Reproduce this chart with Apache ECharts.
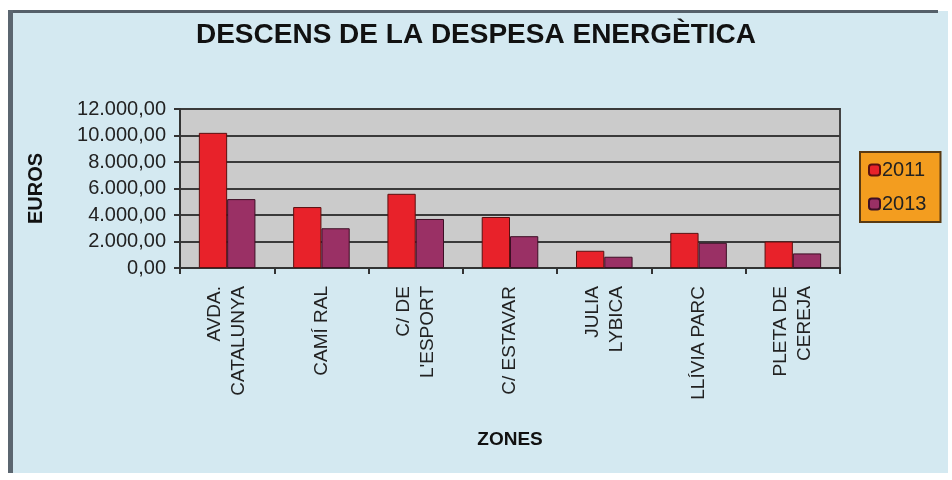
<!DOCTYPE html>
<html>
<head>
<meta charset="utf-8">
<script src="https://cdn.jsdelivr.net/npm/echarts@6/dist/echarts.min.js"></script>
<style>
  html, body { margin: 0; padding: 0; background: #fff; }
  #app { width: 952px; height: 480px; }
</style>
</head>
<body>
<div id="app"></div>
<script>
var zones = ['AVDA.\nCATALUNYA', 'CAMÍ RAL', "C/ DE\nL'ESPORT", 'C/ ESTAVAR', 'JULIA\nLYBICA', 'LLÍVIA PARC', 'PLETA DE\nCEREJA'];
var values2011 = [10200, 4600, 5600, 3850, 1300, 2650, 2000];
var values2013 = [5200, 3000, 3700, 2400, 850, 1900, 1100];
var yTicks = [0, 2000, 4000, 6000, 8000, 10000, 12000];

function euro(v) {
    var s = Math.round(v).toString().replace(/\B(?=(\d{3})+(?!\d))/g, '.');
    return s + ',00';
}

var chart = echarts.init(document.getElementById('app'));

chart.setOption({
    backgroundColor: '#ffffff',
    textStyle: { fontFamily: 'Liberation Sans, Arial, sans-serif' },
    graphic: [
        // chart frame
        { type: 'rect', z: -10, shape: { x: 8, y: 11, width: 940, height: 462 },
          style: { fill: '#d4e9f1' } },
        { type: 'rect', z: -9, shape: { x: 8, y: 10, width: 930, height: 3 },
          style: { fill: '#55606a' } },
        { type: 'rect', z: -9, shape: { x: 8, y: 10, width: 5, height: 463 },
          style: { fill: '#5b6670' } }
    ],
    title: {
        text: 'DESCENS DE LA DESPESA ENERGÈTICA',
        left: 'center',
        top: 16,
        textStyle: { fontSize: 28, fontWeight: 'bold', color: '#111' }
    },
    legend: {
        orient: 'vertical',
        left: 860,
        top: 152,
        padding: [8, 14, 8, 8],
        itemGap: 14,
        itemWidth: 11,
        itemHeight: 11,
        backgroundColor: '#f39d1f',
        borderColor: '#5a3a12',
        borderWidth: 2,
        textStyle: { fontSize: 20, color: '#222', padding: [0, 0, 0, -3] },
        data: ['2011', '2013']
    },
    grid: {
        left: 180,
        right: 112,
        top: 109,
        bottom: 212,
        show: true,
        backgroundColor: '#cbcbcb',
        borderColor: '#444',
        borderWidth: 2
    },
    xAxis: {
        type: 'category',
        data: zones,
        name: 'ZONES',
        nameLocation: 'middle',
        nameGap: 162,
        nameTextStyle: { fontSize: 19, fontWeight: 'bold', color: '#111' },
        axisLine: { lineStyle: { color: '#333', width: 2 } },
        axisTick: { show: true, length: 6, lineStyle: { color: '#333', width: 2 } },
        axisLabel: {
            rotate: 90,
            margin: 18,
            fontSize: 19,
            lineHeight: 24,
            color: '#222',
            interval: 0
        }
    },
    yAxis: {
        type: 'value',
        min: 0,
        max: 12000,
        interval: 2000,
        name: 'EUROS',
        nameLocation: 'middle',
        nameRotate: 90,
        nameGap: 134,
        nameTextStyle: { fontSize: 20, fontWeight: 'bold', color: '#111' },
        axisLine: { show: true, lineStyle: { color: '#333', width: 2 } },
        axisTick: { show: true, length: 6, lineStyle: { color: '#333', width: 2 } },
        axisLabel: {
            margin: 14,
            fontSize: 20,
            color: '#222',
            formatter: function (v) { return yTicks.indexOf(v) >= 0 ? euro(v) : ''; }
        },
        splitLine: { lineStyle: { color: '#3a3a3a', width: 2 } }
    },
    series: [{
        name: '2011',
        type: 'bar',
        data: values2011,
        barGap: '0%',
        barCategoryGap: '40%',
        itemStyle: { color: '#e8222a', borderColor: '#5a1010', borderWidth: 1 }
    }, {
        name: '2013',
        type: 'bar',
        data: values2013,
        itemStyle: { color: '#9a3065', borderColor: '#3d0f25', borderWidth: 1 }
    }]
});
</script>
</body>
</html>
